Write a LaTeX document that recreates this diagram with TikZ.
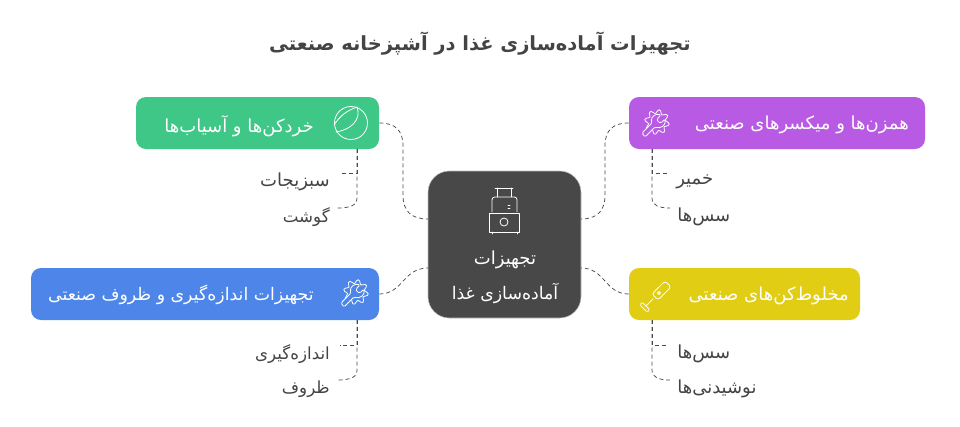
\documentclass[tikz,border=0pt]{standalone}
\usepackage{fontspec}
\setmainfont{DejaVu Sans}
\newfontfamily\arabicfont[Script=Arabic]{DejaVu Sans}
\TeXXeTstate=1
\usepackage{tikz}
\definecolor{hubgray}{HTML}{484848}
\definecolor{textgray}{HTML}{444444}
\definecolor{linegray}{HTML}{4A4A4A}
\definecolor{boxgreen}{HTML}{3EC786}
\definecolor{boxpurple}{HTML}{B85AE3}
\definecolor{boxblue}{HTML}{4D86E8}
\definecolor{boxyellow}{HTML}{E0CD14}
\newcommand{\fa}[1]{\arabicfont\beginR #1\endR}
\tikzset{
	topicbox/.style={rounded corners=7.5pt,minimum height=39pt,inner sep=0pt},
	hubbox/.style={fill=hubgray,draw=lightgray,line width=0.4pt,rounded corners=16pt,minimum width=114.75pt,minimum height=110.25pt,inner sep=0pt},
	boxtext/.style={text=white,inner sep=0pt,font=\fontsize{13.5pt}{16pt}\selectfont},
	itemlabel/.style={text=textgray,inner sep=0pt,font=\fontsize{13.5pt}{16pt}\selectfont},
	smalllabel/.style={itemlabel,font=\fontsize{12.5pt}{16pt}\selectfont},
	branch/.style={draw=linegray,dash pattern=on 3pt off 2.2pt,line width=0.55pt},
	iconline/.style={draw=white,line width=0.6pt,line cap=round,line join=round}
}
\begin{document}
\begin{tikzpicture}[x=0.75pt,y=-0.75pt]
	\useasboundingbox (0,0) rectangle (960,426);
	\node (title) at (480,44) {\textcolor{textgray}{\fontsize{14.6pt}{18pt}\selectfont\bfseries\fa{تجهیزات آماده‌سازی غذا در آشپزخانه صنعتی}}};
	% boxes
	\node[hubbox] (hub) at (504.5,244.5) {};
	\node[topicbox,fill=boxgreen,minimum width=182.25pt] (cutters) at (257.5,123) {};
	\node[topicbox,fill=boxpurple,minimum width=222pt] (mixers) at (777,123) {};
	\node[topicbox,fill=boxblue,minimum width=261pt] (measure) at (205,294) {};
	\node[topicbox,fill=boxyellow,minimum width=173.25pt] (blenders) at (744.5,294) {};
	\node[boxtext] (hubtop) at (505,260) {\fa{تجهیزات}};
	\node[boxtext,font=\fontsize{13pt}{16pt}\selectfont] (hubbottom) at (505,293) {\fa{آماده‌سازی غذا}};
	\node[boxtext,anchor=east] (cutterstext) at (314,126) {\fa{خردکن‌ها و آسیاب‌ها}};
	\node[boxtext,anchor=east] (mixerstext) at (909,125) {\fa{همزن‌ها و میکسرهای صنعتی}};
	\node[boxtext,anchor=east,font=\fontsize{13pt}{16pt}\selectfont] (measuretext) at (314,295) {\fa{تجهیزات اندازه‌گیری و ظروف صنعتی}};
	\node[boxtext,anchor=east] (blenderstext) at (849,296) {\fa{مخلوط‌کن‌های صنعتی}};
	% items
	\node[itemlabel,anchor=east] (vegetables) at (330,182) {\fa{سبزیجات}};
	\node[smalllabel,anchor=east] (meat) at (330,217) {\fa{گوشت}};
	\node[smalllabel,anchor=east] (measuring) at (330,354) {\fa{اندازه‌گیری}};
	\node[smalllabel,anchor=east] (dishes) at (330,389) {\fa{ظروف}};
	\node[itemlabel,anchor=west] (dough) at (676,182) {\fa{خمیر}};
	\node[itemlabel,anchor=west] (saucesa) at (677,217) {\fa{سس‌ها}};
	\node[itemlabel,anchor=west] (saucesb) at (677,354) {\fa{سس‌ها}};
	\node[itemlabel,anchor=west] (drinks) at (677,389) {\fa{نوشیدنی‌ها}};
	% connector ends
	\coordinate (hubwa) at (428,219);
	\coordinate (hubwb) at (428,268);
	\coordinate (hubea) at (581,219);
	\coordinate (hubeb) at (581,268);
	\coordinate (cuttersfoot) at (357,149);
	\coordinate (measurefoot) at (357,320);
	\coordinate (mixersfoot) at (652,149);
	\coordinate (blendersfoot) at (652,320);
	% hub to boxes
	\draw[branch] (cutters.east) .. controls (395,123) and (403,130) .. (403,146) -- (403,195) .. controls (403,211) and (411,219) .. (hubwa);
	\draw[branch] (measure.east) .. controls (403,294) and (403,268) .. (hubwb);
	\draw[branch] (mixers.west) .. controls (613,123) and (605,130) .. (605,146) -- (605,195) .. controls (605,211) and (597,219) .. (hubea);
	\draw[branch] (blenders.west) .. controls (605,294) and (605,268) .. (hubeb);
	% boxes to items
	\draw[branch] (cuttersfoot) -- (357,173) -- (342,173);
	\draw[branch] (cuttersfoot) -- (357,198) .. controls (357,205) and (351,208) .. (337,208);
	\draw[branch] (measurefoot) -- (357,345) -- (340,345);
	\draw[branch] (measurefoot) -- (357,370) .. controls (357,377) and (351,380) .. (337,380);
	\draw[branch] (mixersfoot) -- (652,173) -- (668,173);
	\draw[branch] (mixersfoot) -- (652,198) .. controls (652,205) and (658,208) .. (670,208);
	\draw[branch] (blendersfoot) -- (652,345) -- (668,345);
	\draw[branch] (blendersfoot) -- (652,370) .. controls (652,377) and (658,380) .. (670,380);
	% icons
	\draw[iconline] (351,123) circle (16.5);
	\draw[iconline] (334,125) .. controls (340,116) and (346,111) .. (357,107);
	\draw[iconline] (357,107) .. controls (362,120) and (350,130) .. (336,132);
	\draw[iconline] (489,213) rectangle (519,232);
	\draw[iconline,rounded corners=2pt] (492,212) -- (492,197) -- (517,197) -- (517,212);
	\draw[iconline] (497,188) -- (497,197) (511,188) -- (511,197) (495,188) -- (513,188);
	\draw[iconline] (504,222) circle (4);
	\draw[iconline] (508,205) -- (510,205) (508,208) -- (510,208);
	\draw[iconline] (492,232) -- (492,234) (517,232) -- (517,234);
	\draw[iconline,rounded corners=2pt] (671,287) -- (665,281) -- (652,294) -- (658,300) -- cycle;
	\draw[iconline] (659,293) circle (1.5);
	\draw[iconline] (653,299) -- (646,306);
	\draw[iconline,rounded corners=1pt] (642,302) -- (650,310) -- (647,312) -- (640,305) -- cycle;
	\foreach \gearx/\geary/\gearfill in {356/292/boxblue,657/122/boxpurple}{
		\begin{scope}[shift={(\gearx,\geary)}]
			\draw[iconline] plot[smooth cycle,domain=0:352,samples=45] ({(10.5+2*sin(8*\x))*cos(\x)},{(10.5+2*sin(8*\x))*sin(\x)});
			\draw[iconline,fill=\gearfill,rounded corners=1pt] (-15,11) -- (-5,1) .. controls (-7,-5) and (-1,-9) .. (4,-7) -- (0,-3) -- (1,0) -- (4,1) -- (8,-3) .. controls (9,3) and (4,7) .. (-2,5) -- (-12,15) -- cycle;
		\end{scope}
	}
\end{tikzpicture}
\end{document}
